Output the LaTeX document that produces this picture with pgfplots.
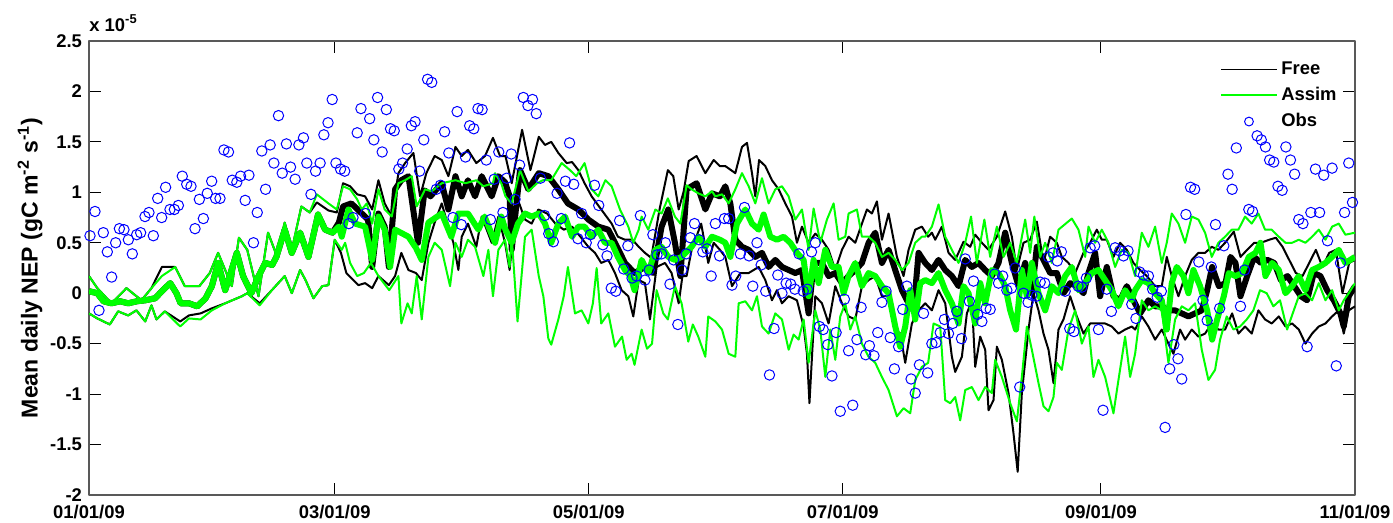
\documentclass[border=0pt]{standalone}
\usepackage{fontspec}
\setmainfont{Liberation Sans}
\usepackage{pgfplots}
\pgfplotsset{compat=1.18}
\definecolor{mgreen}{rgb}{0,1,0}
\definecolor{mblue}{rgb}{0,0,1}
\begin{document}
\begin{tikzpicture}
\begin{axis}[name=ax,
  width=633pt, height=227pt, scale only axis,
  xmin=0, xmax=304, ymin=-2, ymax=2.5,
  xtick={0,59,120,181,243,304},
  xticklabels={01/01/09,03/01/09,05/01/09,07/01/09,09/01/09,11/01/09},
  ytick={-2,-1.5,-1,-0.5,0,0.5,1,1.5,2,2.5},
  yticklabels={-2,-1.5,-1,-0.5,0,0.5,1,1.5,2,2.5},
  tick align=inside, major tick length=6pt,
  tick style={black, line width=0.5pt},
  axis line style={black!65, line width=0.6pt},
  ticklabel style={font=\bfseries\fontsize{9.2}{10}\selectfont},
  xticklabel style={yshift=-1.5pt},
  ylabel={\bfseries Mean daily NEP (gC m\textsuperscript{-2} s\textsuperscript{-1})},
  ylabel style={font=\fontsize{11.5}{13}\selectfont, yshift=-3pt},
  legend style={at={(1,1)}, anchor=north east, xshift=-4pt, yshift=-6pt,
    draw=none, fill=none, font=\bfseries\fontsize{9.2}{10}\selectfont,
    row sep=1pt},
  legend cell align=left,
  line join=round,
]
% Free: mean (thick), upper and lower (thin)
\addplot[black, line width=3pt, forget plot] coordinates {
(0,0.02)(2,0)(3.5,-0.08)(5.4,-0.1)(7.5,-0.08)(9.4,-0.1)(11.5,-0.08)(13.5,-0.07)(15.9,-0.05)(17.5,0.02)(19.5,0.1)(21,0)(22,-0.1)(24,-0.1)(26,-0.13)(28,-0.05)(29.5,0.07)(31,0.3)(32.7,0.03)(34,0.2)(35.5,0.4)(37,0.17)(39,0)(40.5,0.15)(42.3,0.3)(44,0.28)(45,0.36)(47,0.63)(48.7,0.4)(50.7,0.6)(52.7,0.36)(55,0.78)(56.7,0.63)(58.5,0.6)(60,0.7)
(61,0.86)(63,0.89)(65.5,0.79)(67,0.73)(68,0.26)(69.5,0.79)(71,0.66)(72,0.26)(73.5,1.03)(75,1.12)(76.7,1.16)(79,0.5)(80.6,1.02)(82,0.96)(84.7,1.09)(86.3,0.83)(88,1.16)(89.5,0.96)(91,1.12)(92.7,0.96)(94.3,1.16)(96.7,0.96)(98.3,1.16)(99.9,1.1)(101,0.96)(101.5,0.43)(103.5,1.22)(105.5,1.03)(108,1.19)(110.3,1.16)(112.7,1.03)(115,0.89)(117.5,0.83)(119.9,0.73)(122.3,0.66)(124.7,0.63)(126.3,0.5)(128.7,0.3)(131,0.2)(133.5,0.26)(135.5,0.2)(137.5,0.66)(139.1,0.83)(140.7,0.5)(142,0.17)(143.5,1.03)(145.9,1.09)(148,0.83)(149.6,0.99)(151.5,0.96)(152.8,1.06)(154,0.89)(155.2,0.53)(156.8,0.46)(158.4,0.43)(160,0.36)(161.6,0.4)(163.2,0.26)(164.8,0.33)(166.4,0.26)(168,0.23)(169.6,0.2)(171.2,0.23)(172.8,-0.2)(174,0.3)(176,0.3)(177.6,0.17)(179.2,0.2)(180.8,0.1)(182.4,0.17)(184,0.23)(185.6,0.3)(187.2,0.5)(188.8,0.6)(190.4,0.3)(192,0.43)(193.6,0.23)(195.2,0.03)(196.4,-0.07)(198,-0.17)(199.2,0.4)(200.8,0.3)(202.4,0.23)(204,0.33)(205.6,0.23)(207.2,0.17)(208.8,0.07)(210.4,0.33)(212,0.26)(213.6,0.3)(215.2,0.23)(216.8,0.17)(218.4,0.3)(220,0.6)(221.6,0.3)(223.2,0.07)(224.8,0.3)(226.4,0)(227.6,0.46)(229.2,0.33)(230.8,0.2)(232.4,0.2)(234,0)(235.6,0.1)(237.2,0.07)(238.8,0)(240,0.2)(241.6,0.4)(242.8,-0.03)(244.4,0.26)(246,-0.03)(247.6,-0.07)(249.2,0.07)(250.8,-0.07)(252.4,-0.2)(254.4,-0.07)(256,-0.13)(257.6,-0.13)(259.2,-0.17)(260.8,-0.17)(262.4,-0.2)(264,-0.23)(265.6,-0.2)(267.2,-0.17)(268.5,0.03)(269.7,0.26)(271.3,0.07)(272.9,0.1)(274.1,0.36)(275.3,0.3)(276.5,-0.03)(278.1,0.17)(279.8,0.36)(281.4,0.3)(283,0.33)(284.6,0.3)(286.2,0.13)(287.8,0.17)(289.4,0.07)(291,-0.03)(292.5,-0.07)(294.1,0.2)(295.7,0.17)(297.3,0.03)(298.9,-0.07)(300.5,-0.2)(301.3,-0.33)(302.5,-0.03)(304,0.07)};
\addplot[black, line width=1pt,
  legend image code/.code={\draw[black,line width=0.7pt] (0cm,0cm) -- (0.97cm,0cm);}] coordinates {
(0,0.17)(2,0.05)(5.4,-0.1)(9,0.05)(12.6,-0.07)(15,0.05)(17.5,0.26)(20.7,0.26)(23,0.07)(26.5,0.07)(29,0.2)(31,0.4)(34.3,0.07)(36,0.55)(38,0.43)(40.7,-0.03)(43,0.6)(45,0.38)(47,0.7)(48.7,0.43)(51,0.86)(53,0.8)(54.7,0.9)(57.5,0.82)(59.5,0.8)
(61,1.09)(62.7,1.06)(64.4,0.98)(66.3,0.96)(68,0.83)(69.5,1.12)(71,0.89)(72.7,0.76)(74.3,1.19)(75.9,1.29)(77.9,1.39)(79.5,0.96)(81,1.19)(83,1.36)(84.7,1.32)(86.3,1.16)(88,1.45)(89.5,1.36)(91,1.42)(93,1.29)(95.1,1.36)(97,1.54)(98.7,1.36)(100,1.36)(101.5,1.09)(104,1.62)(106,1.22)(108,1.55)(109.5,1.47)(111,1.5)(112.7,1.39)(114.7,1.29)(116,1.3)(117.5,1.22)(119,1.09)(120.7,0.96)(123,0.83)(125.5,0.69)(127,0.56)(128.7,0.53)(130.5,0.53)(132,0.46)(133.5,0.4)(135,0.35)(137,0.83)(139,1.22)(140.3,1.16)(141.6,0.83)(142.8,1.01)(144,1.31)(145.9,1.36)(148,1.19)(150,1.32)(151.5,1.26)(152.8,1.26)(155.2,1.19)(156.8,1.45)(158,1.49)(159.2,1.19)(160,0.96)(160.9,1.32)(162.4,1.26)(164,1.12)(165.6,1.03)(167.2,0.89)(168.8,0.76)(170,0.5)(171.2,0.66)(172.8,0.5)(174.4,0.59)(176,0.53)(177.6,0.43)(179.2,0.23)(180.8,0.43)(182.4,0.56)(184,0.5)(185.6,0.69)(186.8,0.83)(188,0.79)(189.2,0.91)(190.4,0.53)(192,0.79)(194,0.36)(195.6,0.17)(196.8,0.43)(198.4,0.63)(200,0.66)(201.5,0.56)(202.4,0.6)(203.2,0.53)(204.8,0.66)(206.4,0.4)(208,0.33)(210,0.51)(211.6,0.46)(212.8,0.58)(214.4,0.5)(216,0.43)(218,0.56)(220,0.81)(221.6,0.56)(222.8,0.23)(224.4,0.5)(226,0.53)(227.6,0.71)(229.2,0.3)(230.8,0.56)(232.4,0.5)(233.6,0.36)(235.2,0.3)(236.8,0.2)(238.8,0.4)(240.4,0.5)(242,0.63)(243.2,0.53)(244.4,0.53)(246,0.36)(247.6,0.5)(249.2,0.43)(250.8,0.3)(252.4,0.23)(254,0.17)(256,0.07)(257.6,0.07)(258.8,0.36)(260,0.17)(261.6,-0.03)(263.2,0.17)(264.8,0.33)(266.4,0.4)(268,0.4)(269.6,0.46)(271.2,0.43)(272.8,0.5)(274.9,0.61)(276.5,0.36)(278.1,0.43)(279.8,0.5)(281.4,0.5)(283.4,0.53)(285,0.55)(286.6,0.46)(288.2,0.33)(289.8,0.2)(291.4,0.17)(293,0.3)(294.6,0.43)(296.2,0.26)(297.8,0.4)(299.4,0.43)(301,0)(302.6,0.3)(304,0.33)};
\addlegendentry{Free}
\addplot[black, line width=1pt, forget plot] coordinates {
(0,-0.2)(2,-0.25)(5,-0.31)(7,-0.18)(9.4,-0.22)(11.4,-0.17)(13.5,-0.28)(15,-0.12)(16.2,-0.26)(18.2,-0.18)(21.9,-0.28)(24,-0.22)(26.8,-0.2)(29.5,-0.15)(32.7,-0.1)(36.7,-0.03)(38,0)(41,-0.1)(43.9,0.03)(47,0.17)(48.7,0)(50.7,0.23)(52,0.13)(53.9,-0.05)(56,0.07)(57.5,0.08)(59,0.53)(60.5,0.4)
(61.8,0.2)(64.7,0.08)(66.3,0.1)(68,0.05)(69.5,0.17)(72,0.08)(73.5,0.17)(75,0.4)(76.7,0.23)(78.5,0.2)(79.9,0.13)(81.5,0.5)(83,0.7)(84.7,0.89)(86.3,0.66)(87.5,0.5)(88.7,0.23)(89.5,0.56)(91,0.69)(93,0.46)(94.3,0.76)(96.7,0.5)(98.3,0.76)(99.9,0.5)(101,0.23)(102.7,0.96)(104.7,0.73)(106.3,0.69)(107.9,0.83)(110,0.79)(112,0.69)(114,0.63)(116,0.66)(118,0.56)(119.9,0.46)(121.5,0.4)(123,0.3)(124.7,0.33)(126.3,0.2)(127.9,0.03)(129.5,-0.03)(130.7,-0.23)(132,0.13)(133.5,0.1)(134.7,-0.26)(136.3,0.26)(138.3,0.3)(139.9,0.2)(141.6,-0.1)(142.5,0.17)(143.5,0.17)(144.7,0.43)(147,0.69)(148.7,0.3)(150,0.5)(151.5,0.43)(152.8,0.36)(154.4,0.07)(156.4,0.2)(158.4,0.2)(160.8,0.26)(162.4,0.13)(164,-0.07)(165.2,0.03)(166.4,-0.1)(168,-0.03)(170,-0.07)(171.6,-0.33)(172.4,-0.6)(173,-1.09)(174.4,-0.03)(176,-0.1)(177.6,-0.3)(179.2,0.07)(180.8,-0.1)(182.4,-0.23)(184,-0.26)(185.6,0.07)(187.2,0.13)(188.8,0.17)(190.4,-0.03)(192,-0.03)(193.6,-0.36)(194.8,-0.4)(196,-0.69)(197.6,-0.3)(199.2,-0.17)(200.8,-0.1)(202.4,-0.17)(204,0.03)(205.6,-0.1)(207.2,-0.63)(208,-0.78)(209.6,-0.63)(210.8,-0.2)(212,-0.07)(212.8,-0.73)(214,-0.43)(215.2,-0.56)(216,-1.16)(217.2,-1.06)(218,-0.53)(219.2,-0.66)(220.8,-0.99)(222,-1.39)(223,-1.77)(224,-0.99)(225.6,-0.36)(226.8,0)(228,-0.17)(229.2,-0.4)(230.4,-0.56)(231.6,-0.89)(232.8,-0.36)(234,-0.26)(235.6,-0.03)(237.2,-0.23)(238.8,-0.4)(240.4,-0.3)(242,-0.3)(244,-0.3)(245.6,-0.33)(247.2,-0.4)(248.8,-0.36)(250.4,-0.33)(251.2,-0.36)(252.8,-0.23)(254.4,-0.33)(256,-0.46)(257.6,-0.36)(259.2,-0.5)(260.4,-0.6)(262,-0.36)(263.2,-0.46)(264.8,-0.36)(266.4,-0.43)(268,-0.4)(269.6,-0.3)(271.2,-0.36)(272.8,-0.36)(274.5,-0.2)(276,-0.4)(277.6,-0.33)(279.2,-0.4)(280.8,-0.17)(282.4,-0.26)(284,-0.3)(285.7,-0.23)(287.3,-0.33)(288.9,-0.3)(290.5,-0.36)(292.1,-0.5)(293.7,-0.4)(295.3,-0.33)(296.9,-0.3)(298.5,-0.23)(300.1,-0.17)(301.3,-0.4)(302.5,-0.17)(304,-0.13)};
% Assim: mean (thick), upper and lower (thin)
\addplot[mgreen, line width=3pt, forget plot] coordinates {
(0,0.02)(2,0)(3.5,-0.08)(5.4,-0.1)(7.5,-0.08)(9.4,-0.1)(11.5,-0.08)(13.5,-0.07)(15.9,-0.05)(17.5,0.02)(19.5,0.1)(21,0)(22,-0.1)(24,-0.1)(26,-0.13)(28,-0.05)(29.5,0.07)(31,0.3)(32.7,0.03)(34,0.2)(35.5,0.4)(37,0.17)(39,0)(40.5,0.15)(42.3,0.3)(44,0.28)(45,0.36)(47,0.63)(48.7,0.4)(50.7,0.6)(52.7,0.36)(55,0.78)(56.7,0.63)(58.5,0.6)(60,0.66)(60.7,0.56)(62.3,0.83)(63.9,0.69)(66.3,0.66)(68,0.33)(69.5,0.76)(71,0.63)(72.3,0.26)(73.5,0.63)(76.7,0.56)(78.5,0.45)(79.9,0.33)(81.5,0.7)(84.7,0.79)(87,0.56)(88.7,0.79)(91,0.79)(93.5,0.63)(95,0.76)(97.5,0.5)(99,0.76)(100,0.63)(101.5,0.5)(103,0.69)(104.7,0.79)(106.3,0.76)(108,0.79)(109.5,0.69)(111,0.5)(112.7,0.69)(114.3,0.76)(116,0.56)(117.5,0.66)(119,0.66)(120.7,0.56)(122.3,0.63)(123.9,0.5)(125.5,0.5)(127,0.36)(128.7,0.23)(130,0.17)(131,0.03)(132.7,0.33)(134.3,0.2)(136,0.43)(137.5,0.46)(139.1,0.36)(140.7,0.33)(142.3,0.36)(144.7,0.46)(146.3,0.56)(148,0.46)(149.6,0.56)(151.5,0.53)(152.8,0.5)(154,0.36)(155.6,0.69)(157.6,0.83)(159.2,0.69)(160.8,0.63)(162,0.78)(163.6,0.56)(165.2,0.53)(166.8,0.56)(168.4,0.5)(170,0.4)(171.6,0.33)(172.8,-0.03)(174,0.33)(175.2,0.1)(176.8,0.43)(178.4,0.26)(180,0.26)(181.2,0)(182.4,0.17)(184,0.3)(185.6,0.07)(187.2,0.2)(188.8,0.17)(190.4,0.07)(192,0)(193.6,-0.33)(194.8,-0.53)(196,-0.33)(197.2,0.03)(198.4,-0.26)(199.6,0.1)(200.8,0.13)(202.4,0.1)(204,0.2)(205.6,0.03)(207.2,-0.1)(208.8,-0.3)(210,0.07)(211.2,0)(212.8,-0.3)(214,0.1)(215.2,-0.1)(216.8,0.23)(218.4,0.2)(220,0.07)(221.2,-0.17)(222.6,-0.36)(224,0.23)(225.2,-0.03)(226.4,0.3)(228,0)(229.6,-0.17)(231.2,0.07)(232.8,0)(234.4,0.17)(236,0.26)(237.6,0.03)(239.2,0.1)(240.8,0.2)(242.4,0.23)(244,0.13)(245.6,0.03)(247.2,-0.13)(248.8,0.03)(250.4,-0.07)(251.2,0.03)(252.8,0.13)(254.4,0.1)(256,0)(257.6,-0.07)(258.8,-0.36)(260,0.1)(261.2,0.26)(262.8,0.17)(264,0)(265.2,0.23)(266.8,0.07)(268.5,-0.17)(269.7,-0.46)(270.9,-0.26)(272.5,-0.03)(273.7,0.2)(275.3,0.17)(276.9,0.2)(278.5,0.36)(280.1,0.4)(281.3,0.5)(282.5,0.17)(284.1,0.3)(285.7,0.23)(287.3,0)(288.9,0.07)(290.5,0.17)(292.1,0.03)(293.7,0.23)(295.3,0.26)(296.9,0.3)(298.5,0.36)(300.1,0.43)(301.7,0.3)(304,0.36)};
\addplot[mgreen, line width=1pt,
  legend image code/.code={\draw[mgreen,line width=0.8pt] (0cm,0cm) -- (0.97cm,0cm);}] coordinates {
(0,0.17)(2,0.05)(5.4,-0.1)(9,0.05)(12.6,-0.07)(15,0.05)(17.5,0.17)(20.7,0.26)(23,0.07)(26.5,0.07)(29,0.2)(31,0.4)(34.3,0.07)(36,0.55)(38,0.43)(40.7,-0.03)(43,0.6)(45,0.38)(47,0.7)(48.7,0.43)(51,0.86)(53,0.8)(54.7,0.98)(57.5,0.89)(59.5,0.83)(61,1.06)(62.7,1.03)(64.4,0.93)(65.5,0.83)(66.7,0.89)(68,0.69)(69.5,1.03)(71,0.83)(72.7,0.76)(74.3,1.09)(75.9,1.12)(77.5,1.16)(78.7,0.86)(80.7,1.03)(82.3,1.01)(84.7,1.09)(88,1.12)(90.4,1.09)(93,1.12)(94.7,1.06)(97,1.09)(97.5,1.19)(99,1.09)(100,0.96)(101.5,0.89)(103.5,1.22)(105.5,1.01)(107.6,1.09)(109,1.12)(111,1.12)(113.5,1.29)(115.5,1.22)(117,1.16)(119,1.29)(120.7,1.03)(122.3,0.96)(124,1.12)(125.5,1.06)(127.5,0.83)(129.5,0.66)(130.7,0.5)(132,0.63)(132.7,0.76)(134.3,0.63)(136,0.83)(137.5,0.79)(139,0.94)(140.7,0.76)(142,0.69)(143.5,1.07)(144.7,1.03)(146.3,0.99)(148,0.96)(149.6,1.01)(150.4,0.96)(152,0.98)(153.6,0.89)(155.2,1.03)(156.8,1.19)(158.4,1.06)(160,0.89)(161.6,1.14)(163.2,0.89)(164.8,1.03)(166.4,1.06)(168,0.96)(169.6,0.73)(171.2,0.83)(172.8,0.43)(174,0.84)(175.6,0.5)(177.2,0.73)(178.8,0.89)(180,0.53)(181.6,0.56)(182.4,0.79)(184.4,0.83)(185.6,0.56)(187.2,0.56)(188.8,0.5)(190.4,0.36)(192,0.4)(193.6,0.33)(195.2,0.23)(196.8,0.3)(198.4,0.5)(200,0.56)(200.8,0.56)(202.4,0.66)(204,0.88)(205.6,0.56)(207.2,0.43)(208.8,0.3)(210.4,0.5)(211.8,0.76)(213.2,0.3)(215,0.73)(216.4,0.36)(218,0.66)(219.6,0.36)(221.2,0.5)(222.8,0.3)(224.8,0.73)(226,0.4)(227,0.76)(228.4,0.36)(229.6,0.5)(231.2,0.3)(232.8,0.63)(236,0.74)(237.6,0.63)(239.2,0.36)(240,0.66)(241.6,0.5)(243.2,0.63)(244.8,0.5)(246.4,0.26)(248,0.43)(249.6,0.4)(251.2,0.17)(252.8,0.6)(254.4,0.46)(256,0.66)(257.6,0.3)(258.8,0.5)(260,0.79)(261.6,0.69)(263.2,0.5)(264.8,0.76)(266.4,0.73)(268,0.6)(269.6,0.36)(271.2,0.5)(272.8,0.56)(274.4,0.63)(276,0.63)(277.6,0.76)(279.2,0.69)(280.8,0.79)(282.4,0.63)(284,0.63)(285.7,0.56)(287.3,0.5)(288.9,0.5)(290.5,0.53)(292.1,0.5)(293.7,0.56)(295.3,0.63)(296.9,0.53)(298.5,0.66)(300.1,0.69)(301.7,0.58)(304,0.6)};
\addlegendentry{Assim}
\addplot[mgreen, line width=1pt, forget plot] coordinates {
(0,-0.2)(2,-0.25)(5,-0.31)(7,-0.18)(9.4,-0.22)(11.4,-0.17)(13.5,-0.28)(15,-0.12)(16.2,-0.26)(18.2,-0.18)(21.9,-0.33)(24,-0.25)(26.8,-0.26)(29.5,-0.17)(32.7,-0.1)(36.7,-0.03)(38,0)(41,-0.12)(43.9,0.03)(47,0.17)(48.7,0)(50.7,0.23)(52,0.13)(53.9,-0.05)(56,0.07)(57.5,0.08)(59,0.53)(60.7,0.43)(61.5,0.5)(62.7,0.3)(64.4,0.17)(66,0.2)(67.7,0.3)(69.5,0.17)(72.1,0.03)(74.3,0.17)(75,-0.3)(76.5,-0.1)(77.5,-0.2)(78.7,0.17)(79.9,-0.26)(81.5,0.36)(83,0.5)(84.7,0.43)(86.7,0.07)(88,0.5)(89.5,0.36)(91,0.53)(92.7,0.46)(94.7,0.17)(95.9,0.43)(97,-0.03)(98.3,0.43)(99.9,0.53)(101,0.26)(101.5,0.56)(102.9,-0.28)(104.7,0.56)(106.3,0.63)(108,0.17)(109.1,-0.03)(110.3,-0.45)(111,-0.51)(112.7,-0.26)(114,-0.03)(115,0.26)(116.7,-0.2)(118.3,-0.17)(119.9,-0.3)(121,-0.1)(121.9,0.25)(123,-0.3)(124.7,-0.2)(126.3,-0.53)(128,-0.43)(129.1,-0.66)(130.3,-0.6)(131,-0.71)(132.7,-0.36)(134,-0.55)(135.2,-0.5)(136.3,0.03)(137.9,-0.2)(139,-0.26)(140.7,0.07)(142.3,-0.1)(143.9,-0.48)(145,-0.31)(146.3,-0.43)(148,-0.63)(148.7,-0.23)(150.4,-0.28)(152,-0.36)(153.6,-0.6)(155.2,-0.63)(156,-0.1)(157.6,-0.08)(159.2,-0.17)(160.4,-0.03)(161.6,-0.33)(163.2,-0.4)(164.8,-0.2)(166.4,-0.26)(168,-0.56)(169.2,-0.41)(170.4,-0.46)(171.6,-0.26)(172.8,-0.69)(174.4,-0.17)(175.6,-0.36)(176.8,-0.83)(178,-0.36)(179.2,-0.66)(180.4,-0.23)(181.6,-0.1)(182.8,-0.36)(184,-0.23)(185.6,-0.5)(187.2,-0.63)(188.8,-0.69)(190.4,-0.83)(192,-0.96)(194,-1.22)(195.6,-1.14)(197.2,-1.19)(198.4,-0.86)(200,-0.73)(201.5,-0.69)(202.8,-0.3)(204.4,-0.33)(205.6,-1.06)(206.8,-1.09)(208,-1.03)(209.2,-1.26)(210.4,-0.96)(212,-0.93)(213.6,-1.06)(215.2,-0.93)(216.8,-0.99)(217.6,-0.66)(219.2,-0.83)(221.2,-1.09)(222.8,-1.27)(224,-0.83)(225.2,-0.33)(226.4,-0.56)(228,-0.89)(229.2,-1.12)(230.4,-1.17)(231.6,-1.03)(232.4,-0.69)(233.6,-0.76)(235.2,-0.36)(236.8,-0.17)(238.4,-0.5)(240,-0.33)(241.2,-0.83)(242.4,-0.66)(244,-0.83)(246,-1.19)(247.2,-0.86)(248.8,-0.43)(250,-0.83)(251.2,-0.6)(252.8,-0.07)(254.4,-0.17)(256,-0.13)(257.6,-0.17)(259.2,-0.69)(260.8,-0.26)(262.4,-0.13)(264,-0.17)(265.6,-0.1)(267.2,-0.56)(268.8,-0.86)(270.4,-0.76)(271.6,-0.46)(273.2,-0.23)(274.8,-0.36)(276.4,-0.33)(278,-0.26)(279.6,-0.17)(281.2,0.03)(282.8,0)(284.4,-0.13)(286,-0.07)(287.7,-0.36)(289.3,-0.17)(290.5,-0.03)(292.1,0)(293.7,-0.07)(295.3,0.1)(296.9,-0.07)(298.5,0.03)(300.1,-0.17)(301.3,-0.07)(302.5,0)(304,0.1)};
% Obs
\addplot[only marks, mark=o, mark size=2.6pt, mblue, mark options={line width=0.5pt},
  legend image code/.code={\draw[mblue,line width=0.5pt] (0.485cm,0cm) circle (2.2pt);}] coordinates {
(0.24,0.57)(1.44,0.81)(2.4,-0.17)(3.44,0.6)(4.4,0.41)(5.44,0.16)(6.4,0.5)(7.3,0.64)(8.4,0.63)(9.45,0.53)(10.4,0.39)(11.45,0.58)(12.4,0.6)(13.45,0.76)(14.4,0.8)(15.45,0.57)(16.5,0.94)(17.45,0.75)(18.4,1.05)(19.45,0.83)(20.5,0.83)(21.46,0.87)(22.4,1.16)(23.46,1.08)(24.5,1.06)(25.46,0.64)(26.5,0.93)(27.46,0.74)(28.4,0.99)(29.46,1.11)(30.4,0.94)(31.46,0.94)(32.4,1.42)(33.5,1.4)(34.4,1.12)(35.5,1.1)(36.4,1.16)(37.5,0.92)(38.4,1.17)(39.5,0.5)(40.4,0.8)(41.5,1.41)(42.4,1.03)(43.5,1.47)(44.4,1.29)(45.5,1.76)(46.4,1.19)(47.4,1.48)(48.4,1.25)(49.5,1.13)(50.4,1.47)(51.5,1.54)(52.3,1.29)(53.3,0.98)(54.4,1.21)(55.5,1.29)(56.4,1.57)(57.4,1.69)(58.4,1.92)(59.3,1.29)(60.4,1.23)(61.4,1.21)(62.4,0.69)(63.4,0.75)(64.4,1.59)(65.3,1.83)(66.4,0.79)(67.4,1.73)(68.4,1.52)(69.3,1.94)(70.4,1.4)(71.4,1.82)(72.4,1.63)(73.3,1.61)(74.4,1.23)(75.3,1.29)(76.4,1.43)(77.4,1.66)(78.3,1.7)(79.4,1.21)(80.4,1.52)(81.3,2.12)(82.3,2.09)(83.4,1.03)(84.4,1.07)(85.4,1.6)(86.4,1.39)(87.4,0.75)(88.4,1.8)(89.4,0.68)(90.4,1.35)(91.4,1.66)(92.4,1.63)(93.4,1.83)(94.4,1.82)(95.4,1.32)(96.4,0.73)(97.3,1.13)(98.4,1.4)(99.4,0.8)(100.3,1.14)(101.4,1.38)(102.3,0.93)(103.4,1.27)(104.3,1.94)(105.4,1.86)(106.5,1.92)(107.4,1.78)(108.4,1.14)(109.4,0.77)(110.4,0.59)(111.5,0.51)(112.4,0.99)(113.4,0.74)(114.4,1.11)(115.4,1.49)(116.4,1.08)(117.4,0.54)(118.3,0.79)(119.4,0.5)(120.4,0.58)(121.4,1.07)(122.4,0.87)(123.4,0.48)(124.4,0.37)(125.4,0.05)(126.5,0.02)(127.4,0.72)(128.4,0.24)(129.4,0.47)(130.4,0.15)(131.5,0.17)(132.4,0.77)(133.5,0.13)(134.5,0.23)(135.4,0.58)(136.4,0.38)(137.5,0.39)(138.4,0.5)(139.5,0.09)(140.4,0.33)(141.4,-0.31)(142.4,0.23)(143.4,0.39)(144.4,0.55)(145.4,0.69)(146.5,0.53)(147.4,0.41)(148.4,0.44)(149.4,0.17)(150.4,0.69)(151.4,0.37)(152.6,0.74)(153.6,0.74)(154.4,0.08)(155.3,0.17)(156.4,0.39)(157.4,0.85)(158.5,0.37)(159.4,0.07)(160.4,0.5)(161.4,0.28)(162.5,0.02)(163.4,-0.81)(164.5,-0.35)(165.4,0.18)(166.4,0)(167.4,0.1)(168.5,0.09)(169.5,0.04)(170.5,0.39)(171.5,0.02)(172.5,0.04)(173.5,0.41)(174.4,0.5)(175.4,-0.33)(176.3,-0.36)(177.4,-0.51)(178.4,-0.82)(179.4,-0.39)(180.4,-1.17)(181.4,-0.06)(182.4,-0.57)(183.4,-1.11)(184.4,-0.46)(185.4,-0.14)(186.5,-0.61)(187.4,-0.52)(188.5,-0.62)(189.4,-0.39)(190.4,-0.09)(191.4,0.02)(192.4,-0.44)(193.4,-0.75)(194.4,-0.53)(195.4,-0.16)(196.4,0.07)(197.4,-0.85)(198.4,-0.99)(199.4,-0.71)(200.4,-0.2)(201.4,-0.79)(202.4,-0.5)(203.4,-0.49)(204.4,-0.39)(205.4,-0.26)(206.4,-0.4)(207.4,-0.3)(208.4,-0.18)(209.5,-0.45)(210.4,0.34)(211.4,-0.08)(212.4,0.12)(213.4,-0.21)(214.4,-0.28)(215.4,-0.15)(216.4,-0.16)(217.5,0.19)(218.4,0.1)(219.4,0.17)(220.4,0.03)(221.5,0.05)(222.4,0.25)(223.5,-0.93)(224.4,0)(225.5,-0.09)(226.4,-0.02)(227.5,-0.03)(228.4,0.11)(229.5,0.1)(230.4,0.36)(231.5,0.4)(232.5,0.32)(233.5,0.41)(234.4,0.02)(235.5,-0.35)(236.5,-0.38)(237.5,0.07)(238.4,0.06)(239.5,0.15)(240.4,0.45)(241.5,0.47)(242.4,-0.36)(243.5,-1.16)(244.4,0.04)(245.5,-0.18)(246.4,0.45)(247.5,0.42)(248.4,0.37)(249.5,0.42)(250.4,-0.11)(251.4,-0.25)(252.3,0.21)(253.2,0.18)(254.4,0.17)(255.4,0.04)(256.5,-0.04)(257.5,0.02)(258.4,-1.33)(259.5,-0.75)(260.5,-0.51)(261.5,-0.65)(262.4,-0.85)(263.4,0.78)(264.5,1.05)(265.5,1.03)(266.5,0.31)(267.5,-0.07)(268.5,-0.27)(269.5,0.26)(270.5,0.68)(271.5,-0.15)(272.5,0.47)(273.5,1.18)(274.5,1.03)(275.5,1.44)(276.5,-0.13)(277.5,0.23)(278.5,0.83)(279.4,0.81)(280.5,1.56)(281.5,1.52)(282.5,1.45)(283.5,1.32)(284.5,1.3)(285.5,1.06)(286.5,1.02)(287.4,1.45)(288.5,1.32)(289.5,1.18)(290.5,0.73)(291.5,0.69)(292.5,-0.53)(293.4,0.8)(294.5,1.23)(295.5,0.8)(296.5,1.17)(297.4,0.52)(298.5,1.24)(299.5,-0.72)(300.5,0.3)(301.5,0.8)(302.5,1.29)(303.4,0.9)};
\addlegendentry{Obs}
\end{axis}
\node[anchor=south west, inner sep=0pt, font=\bfseries\fontsize{9.2}{10}\selectfont] at ([yshift=4.5pt]ax.north west) {x 10\textsuperscript{-5}};
\pgfresetboundingbox
\path ([xshift=-44.5pt,yshift=-14pt]ax.south west) rectangle ([xshift=19pt,yshift=20.5pt]ax.north east);
\end{tikzpicture}
\end{document}
